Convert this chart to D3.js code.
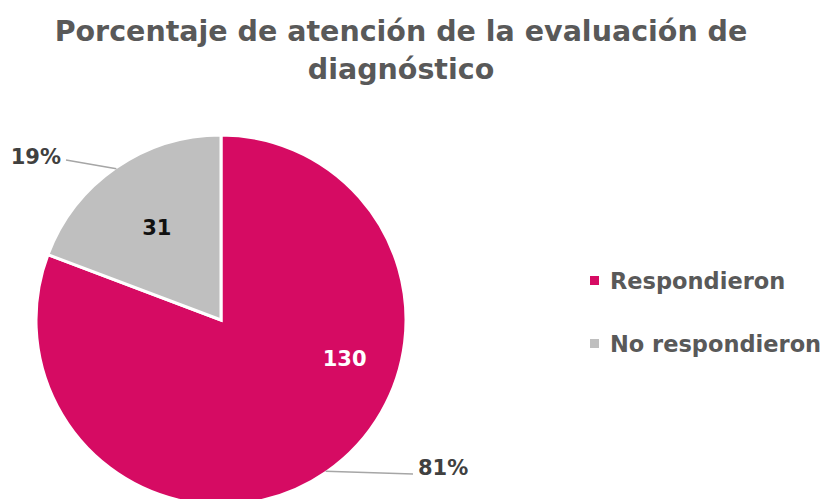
<!DOCTYPE html>
<html>
<head>
<meta charset="utf-8">
<script src="https://cdn.jsdelivr.net/npm/d3@7"></script>
<style>
  body { margin: 0; background: #fff; }
  text { font-family: "DejaVu Sans", sans-serif; font-weight: bold; }
</style>
</head>
<body>
<div id="chart"></div>
<script>
const categories = ["Respondieron", "No respondieron"];
const values = [130, 31];
const percentLabels = ["81%", "19%"];
const colors = ["#D60B63", "#BFBFBF"];
const titleLines = ["Porcentaje de atención de la evaluación de", "diagnóstico"];

const width = 828;
const height = 499;
const radius = 185;
const cx = 221, cy = 320;

const svg = d3.select("#chart")
    .append("svg")
    .attr("width", width)
    .attr("height", height);

// title
svg.append("g")
    .selectAll("text")
    .data(titleLines)
    .enter().append("text")
    .attr("x", 401)
    .attr("y", (d, i) => 41 + i * 38)
    .attr("text-anchor", "middle")
    .style("font-size", "28.5px")
    .style("fill", "#595959")
    .text(d => d);

const data = categories.map((c, i) => ({ label: c, value: values[i], pct: percentLabels[i], color: colors[i] }));

const pie = d3.pie().value(d => d.value).sort(null);
const arc = d3.arc().innerRadius(0).outerRadius(radius);

const g = svg.append("g")
    .attr("transform", `translate(${cx},${cy})`);

const arcs = g.selectAll(".arc")
    .data(pie(data))
    .enter().append("g")
    .attr("class", "arc");

arcs.append("path")
    .attr("d", arc)
    .attr("fill", d => d.data.color)
    .attr("stroke", "#fff")
    .attr("stroke-width", 3);

// value labels inside slices (excel shifts the big slice's label toward the right)
const labelShift = [-38, 0];
const labelDist = [0.7, 0.61];
arcs.append("text")
    .attr("transform", (d, i) => {
        const a = (d.startAngle + d.endAngle) / 2 + labelShift[i] * Math.PI / 180;
        const r = radius * labelDist[i];
        return `translate(${Math.sin(a) * r},${-Math.cos(a) * r})`;
    })
    .attr("text-anchor", "middle")
    .attr("dy", "0.35em")
    .style("font-size", "21px")
    .style("fill", (d, i) => i === 0 ? "#fff" : "#111")
    .text(d => d.data.value);

// percentage labels with leader lines
const edge = d3.arc().innerRadius(radius - 1).outerRadius(radius - 1);
const outerPos = [[418, 468], [61, 157]];
const lineEnd = [[413, 474], [66, 160]];

arcs.append("path")
    .attr("fill", "none")
    .attr("stroke", "#A6A6A6")
    .attr("stroke-width", 1.5)
    .attr("d", (d, i) => {
        const p = edge.centroid(d);
        const e = lineEnd[i];
        return `M${p[0]},${p[1]}L${e[0] - cx},${e[1] - cy}`;
    });

arcs.append("text")
    .attr("x", (d, i) => outerPos[i][0] - cx)
    .attr("y", (d, i) => outerPos[i][1] - cy)
    .attr("text-anchor", (d, i) => i === 0 ? "start" : "end")
    .attr("dy", "0.35em")
    .style("font-size", "21px")
    .style("fill", "#404040")
    .text(d => d.data.pct);

// legend
const legend = svg.append("g")
    .selectAll("g")
    .data(data)
    .enter().append("g")
    .attr("transform", (d, i) => `translate(590,${281 + i * 63})`);

legend.append("rect")
    .attr("x", 0)
    .attr("y", -5)
    .attr("width", 9)
    .attr("height", 9)
    .attr("fill", d => d.color);

legend.append("text")
    .attr("x", 20)
    .attr("dy", "0.35em")
    .style("font-size", "22.5px")
    .style("fill", "#595959")
    .text(d => d.label);
</script>
</body>
</html>
